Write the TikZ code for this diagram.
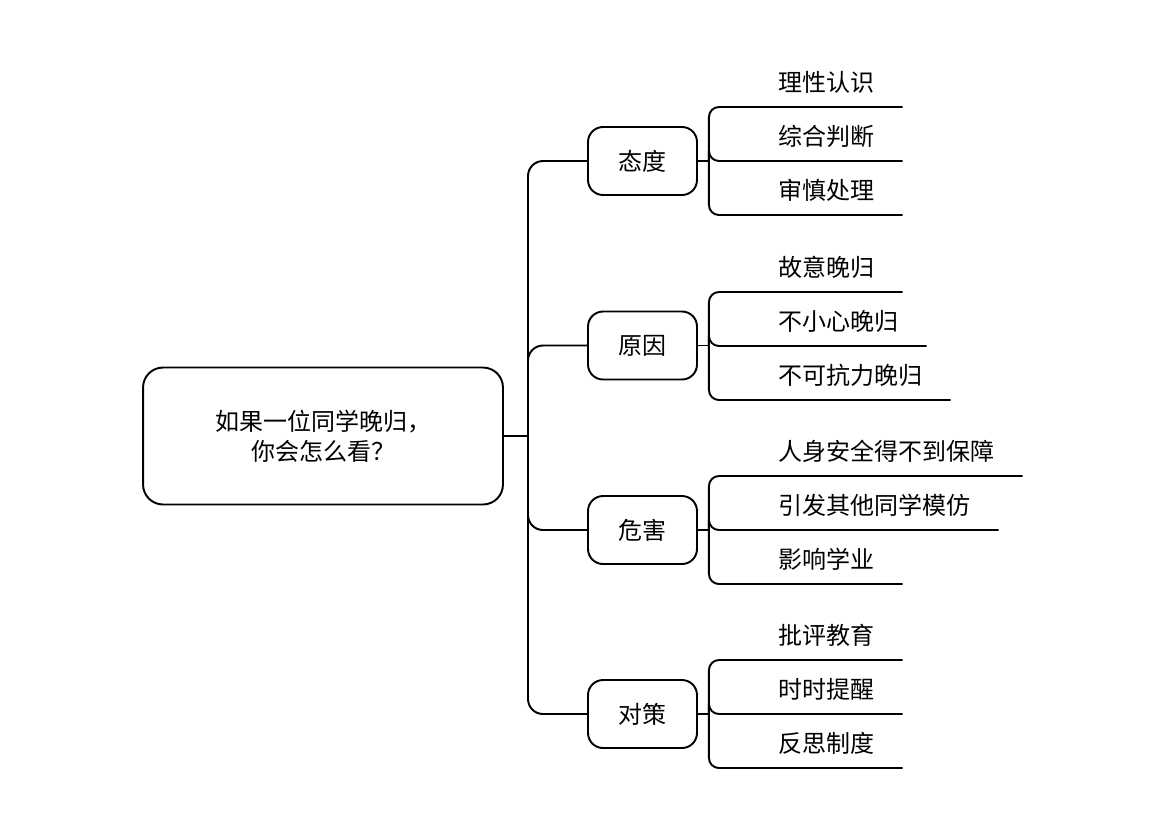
\documentclass[tikz,border=0pt]{standalone}
\usepackage{fontspec}
\newfontfamily\cjk{Noto Sans CJK SC}
\usetikzlibrary{positioning,calc}
\tikzset{
    root/.style={rectangle, draw, line width=1.1pt, rounded corners=0.4cm, minimum width=7.2cm, minimum height=2.74cm, align=center, font=\cjk\fontsize{13.66pt}{17.07pt}\selectfont},
    topic/.style={rectangle, draw, line width=1.1pt, rounded corners=0.3cm, minimum width=2.18cm, minimum height=1.36cm, font=\cjk\fontsize{13.66pt}{17.07pt}\selectfont},
    leaf/.style={anchor=south west, inner xsep=0pt, inner ysep=0.27cm, font=\cjk\fontsize{13.66pt}{17.07pt}\selectfont},
    link/.style={line width=1.1pt, rounded corners=0.3cm},
    sublink/.style={line width=1.1pt, rounded corners=0.2cm},
}
\begin{document}
\begin{tikzpicture}[x=0.02cm, y=-0.02cm]
    \useasboundingbox (0,0) rectangle (1169,826);

    % 中心问题
    \node[root] (q) at (323,436) {如果一位同学晚归，\\你会怎么看？};
    \coordinate (j) at (528,436);
    \draw[link] (q.east) -- (j);

    % 四个分支
    \node[topic] (taidu) at (642.5,161) {态度};
    \node[topic] (yuanyin) at (642.5,345.5) {原因};
    \node[topic] (weihai) at (642.5,530) {危害};
    \node[topic] (duice) at (642.5,714) {对策};
    \draw[link] (j) |- (taidu.west);
    \draw[link] (j) |- (yuanyin.west);
    \draw[link] (j) |- (weihai.west);
    \draw[link] (j) |- (duice.west);

    % 态度
    \node[leaf] (taidu1) at (778,107) {理性认识};
    \node[leaf] (taidu2) at (778,161) {综合判断};
    \node[leaf] (taidu3) at (778,215) {审慎处理};
    \draw[sublink] (taidu.east) -- ++(11,0) coordinate (taiduj);
    \draw[sublink] (taiduj) |- ($(taidu1.south east)+(28,0)$);
    \draw[sublink] (taiduj) |- ($(taidu2.south east)+(28,0)$);
    \draw[sublink] (taiduj) |- ($(taidu3.south east)+(28,0)$);

    % 原因
    \node[leaf] (yuanyin1) at (778,292) {故意晚归};
    \node[leaf] (yuanyin2) at (778,346) {不小心晚归};
    \node[leaf] (yuanyin3) at (778,400) {不可抗力晚归};
    \draw[sublink] (yuanyin.east) -- ++(11,0) coordinate (yuanyinj);
    \draw[sublink] (yuanyinj) |- ($(yuanyin1.south east)+(28,0)$);
    \draw[sublink] (yuanyinj) |- ($(yuanyin2.south east)+(28,0)$);
    \draw[sublink] (yuanyinj) |- ($(yuanyin3.south east)+(28,0)$);

    % 危害
    \node[leaf] (weihai1) at (778,476) {人身安全得不到保障};
    \node[leaf] (weihai2) at (778,530) {引发其他同学模仿};
    \node[leaf] (weihai3) at (778,584) {影响学业};
    \draw[sublink] (weihai.east) -- ++(11,0) coordinate (weihaij);
    \draw[sublink] (weihaij) |- ($(weihai1.south east)+(28,0)$);
    \draw[sublink] (weihaij) |- ($(weihai2.south east)+(28,0)$);
    \draw[sublink] (weihaij) |- ($(weihai3.south east)+(28,0)$);

    % 对策
    \node[leaf] (duice1) at (778,660) {批评教育};
    \node[leaf] (duice2) at (778,714) {时时提醒};
    \node[leaf] (duice3) at (778,768) {反思制度};
    \draw[sublink] (duice.east) -- ++(11,0) coordinate (duicej);
    \draw[sublink] (duicej) |- ($(duice1.south east)+(28,0)$);
    \draw[sublink] (duicej) |- ($(duice2.south east)+(28,0)$);
    \draw[sublink] (duicej) |- ($(duice3.south east)+(28,0)$);
\end{tikzpicture}
\end{document}
